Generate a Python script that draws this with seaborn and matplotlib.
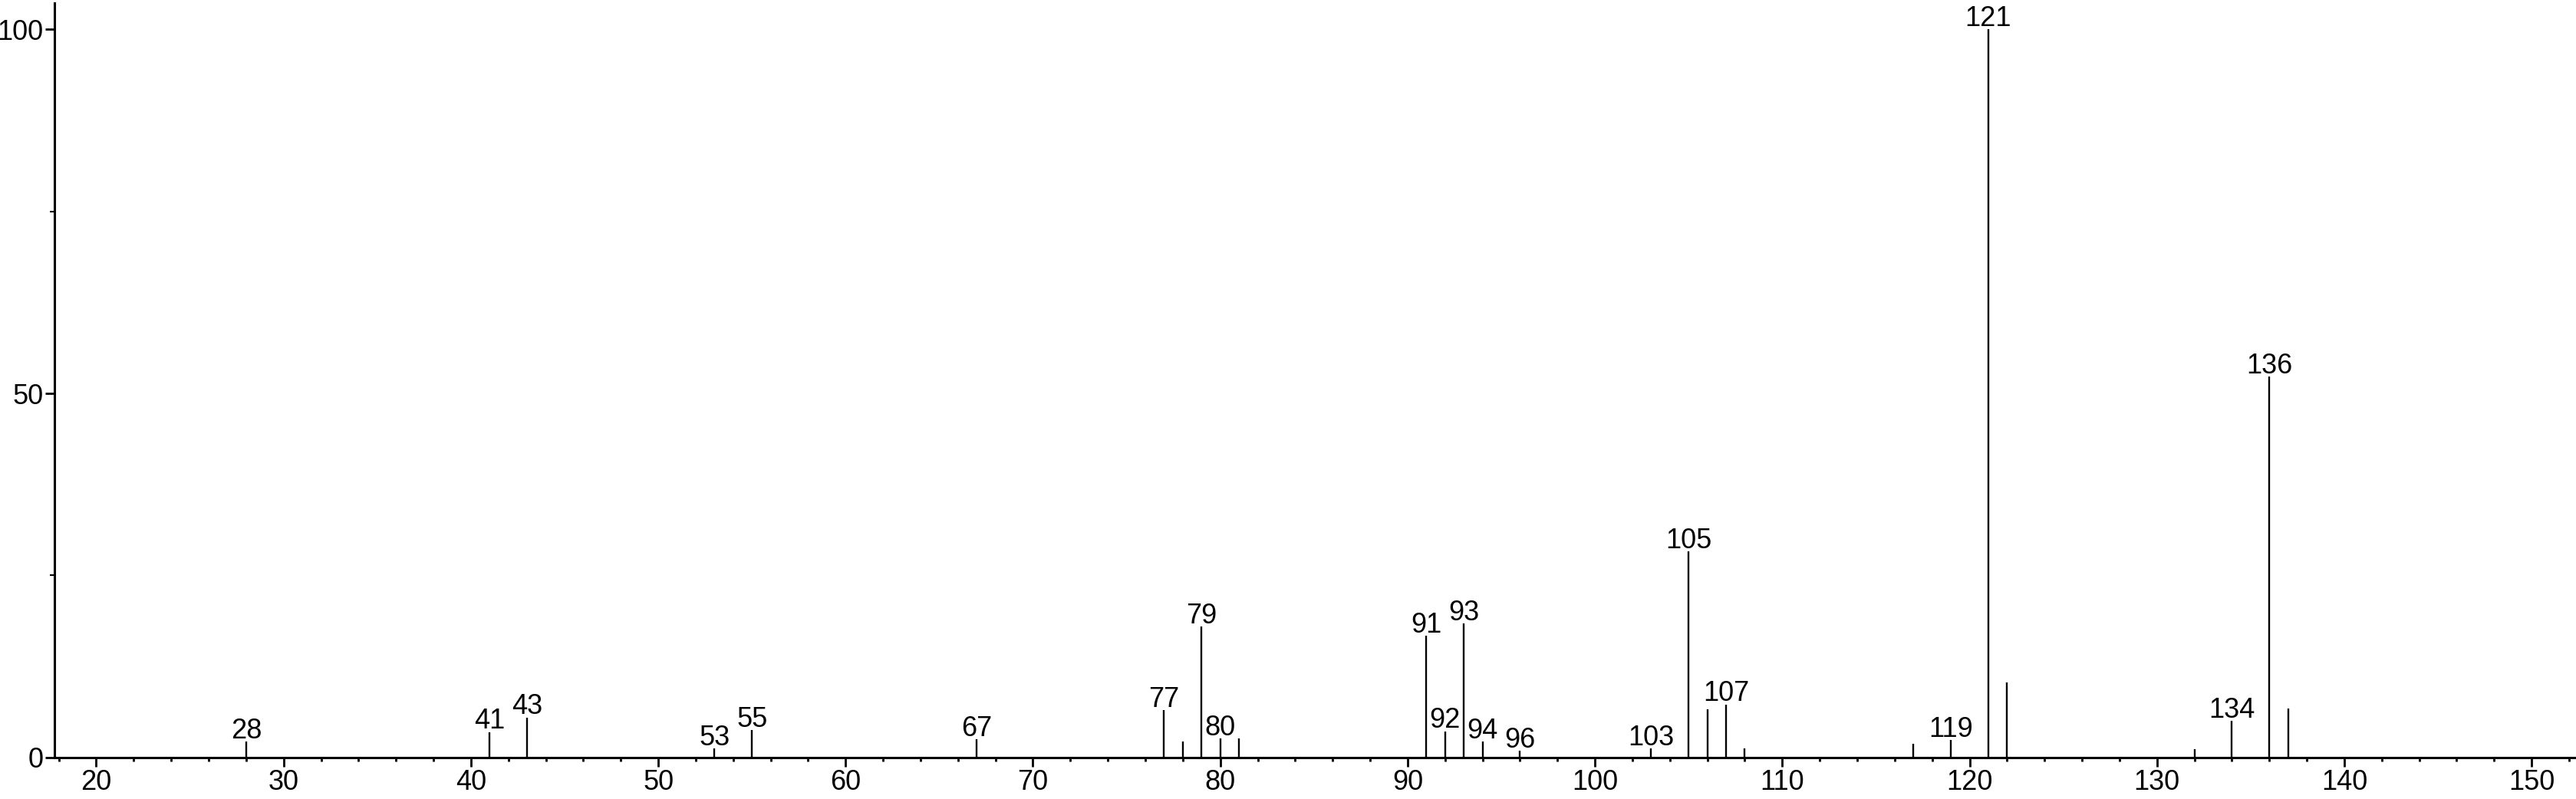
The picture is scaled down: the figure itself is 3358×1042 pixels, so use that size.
import matplotlib
matplotlib.use("Agg")
import matplotlib.pyplot as plt
from matplotlib.ticker import MultipleLocator
import seaborn as sns

# ------------------------------------------------------------------ #
# mass spectrum data (m/z, relative intensity)

mz = [28, 41, 43, 53, 55, 67, 77, 78, 79, 80, 81, 91, 92, 93, 94, 96,
      103, 105, 106, 107, 108, 117, 119, 121, 122, 132, 134, 136, 137]
intensity = [2.2, 3.5, 5.5, 1.2, 3.8, 2.5, 6.5, 2.2, 18.0, 2.6, 2.6, 16.7,
             3.6, 18.4, 2.2, 0.9, 1.2, 28.3, 6.6, 7.3, 1.2, 1.9, 2.4, 100.0,
             10.3, 1.1, 5.0, 52.3, 6.7]
labelled = [28, 41, 43, 53, 55, 67, 77, 79, 80, 91, 92, 93, 94, 96,
            103, 105, 107, 119, 121, 134, 136]

x_ticks = [20, 30, 40, 50, 60, 70, 80, 90, 100, 110, 120, 130, 140, 150]
y_ticks = [0, 50, 100]

# ------------------------------------------------------------------ #

sns.set_theme(style="ticks")
plt.rcParams['font.family'] = ['Liberation Sans', 'DejaVu Sans']
plt.rcParams['font.size'] = 26


def draw_spectrum():
    fig, ax = plt.subplots(figsize=(33.58, 10.42), dpi=100)
    fig.subplots_adjust(left=0.021, right=1.0, bottom=0.052, top=0.996)

    ax.vlines(mz, 0, intensity, colors="black", linewidth=1.7)

    # peak labels sit just above the top of each labelled line
    for m, v in zip(mz, intensity):
        if m in labelled:
            ax.annotate(str(m), (m, v), xytext=(0, 3),
                        textcoords="offset points", ha="center",
                        va="baseline", fontsize=26, color="black")

    ax.set_xlim(17.75, 152.37)
    ax.set_ylim(0, 103.6)
    ax.set_xticks(x_ticks)
    ax.set_yticks(y_ticks)
    ax.xaxis.set_minor_locator(MultipleLocator(2))
    ax.yaxis.set_minor_locator(MultipleLocator(25))

    sns.despine(ax=ax)
    for side in ["left", "bottom"]:
        ax.spines[side].set_linewidth(2.2)
        ax.spines[side].set_color("black")

    ax.tick_params(axis="both", which="major", labelsize=26, width=2.0,
                   color="black", labelcolor="black")
    ax.tick_params(axis="x", which="major", length=8.6, pad=2.5)
    ax.tick_params(axis="x", which="minor", length=3.8, width=2.0, color="black")
    ax.tick_params(axis="y", which="major", length=8.3, pad=2)
    ax.tick_params(axis="y", which="minor", length=4, width=1.5, color="black")

    ax.set_facecolor("white")
    fig.patch.set_facecolor("white")
    fig.savefig("out.png", dpi=100)


draw_spectrum()
